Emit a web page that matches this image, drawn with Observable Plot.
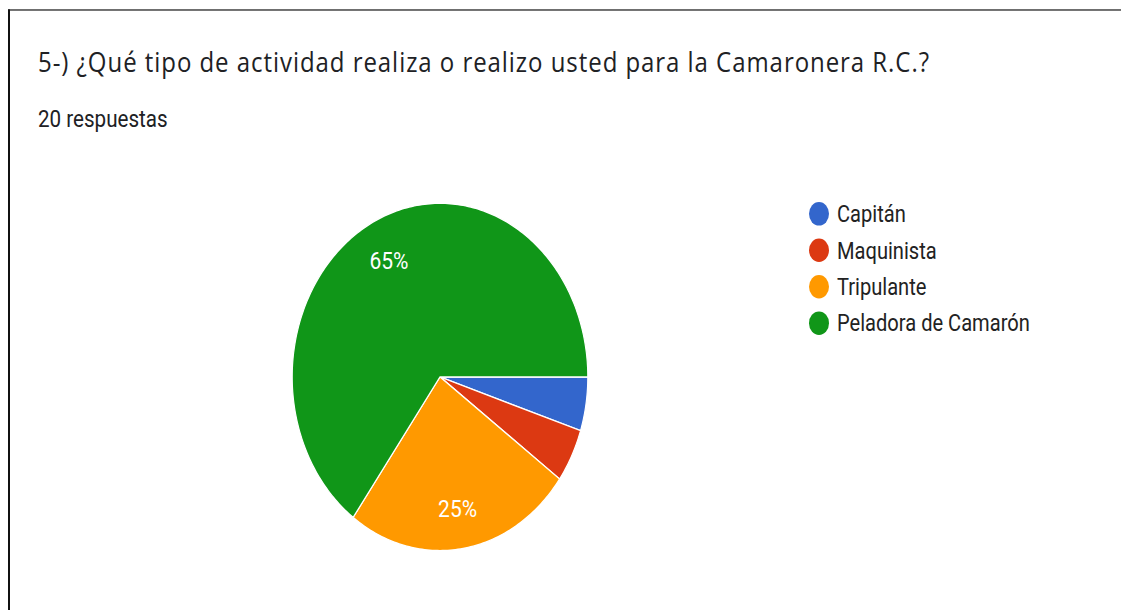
<!DOCTYPE html>
<html>
<head>
<meta charset="utf-8">
<script src="https://cdn.jsdelivr.net/npm/d3@7"></script>
<script src="https://cdn.jsdelivr.net/npm/@observablehq/plot@0.6"></script>
<style>
  html { overflow: hidden; }
  html, body { margin: 0; padding: 0; background: #fff; }
  body { height: 610px; }
  #stage {
    position: relative; width: 1121px; height: 519px;
    transform: scaleY(1.175); transform-origin: 0 0;
    font-family: Roboto, "Noto Sans", sans-serif;
  }
  #frame {
    position: absolute; left: 7.5px; top: 7.7px; right: 0; bottom: -2px;
    border-top: 1.7px solid #111; border-left: 2px solid #111;
  }
  #title {
    position: absolute; left: 38px; font-size: 24px; line-height: 1;
    font-family: "Open Sans", Roboto, sans-serif;
    color: #202124; white-space: nowrap;
  }
  #subtitle {
    position: absolute; left: 38px; font-size: 20.6px; line-height: 1;
    color: #202124; white-space: nowrap;
  }
  #chart { position: absolute; left: 0; top: 140px; }
  #legend { position: absolute; left: 809px; top: 0; }
  .item {
    position: absolute; left: 0; display: flex; align-items: center; height: 20px;
    font-size: 20.1px; color: #222; white-space: nowrap;
  }
  .sw { width: 20px; height: 20px; border-radius: 50%; margin-right: 8px; flex: none; }
</style>
</head>
<body>
<div id="stage">
  <div id="frame"></div>
  <div id="chart"></div>
  <div id="title"></div>
  <div id="subtitle"></div>
  <div id="legend"></div>
</div>
<script>
// ---- data ----
const titleText = "5-) ¿Qué tipo de actividad realiza o realizo usted para la Camaronera R.C.?";
const subtitleText = "20 respuestas";
const categories = ["Capitán", "Maquinista", "Tripulante", "Peladora de Camarón"];
const counts = [1, 1, 5, 13];
const colors = ["#3366cc", "#dc3912", "#ff9900", "#109618"];

const S = 1.175; // vertical stretch of the reference

// title: baseline at 72.5px (screen), fit to 892px width
const titleEl = document.getElementById("title");
titleEl.textContent = titleText;
{
  const F = 24;
  titleEl.style.top = (72.5 / S - 0.888 * F) + "px";
  const w = titleEl.getBoundingClientRect().width;
  const ls = (892 - w) / titleText.length;
  titleEl.style.letterSpacing = ls + "px";
}
const subEl = document.getElementById("subtitle");
subEl.textContent = subtitleText;
subEl.style.top = (127.7 / S - 0.842 * 20.6) + "px";

const total = d3.sum(counts);
// wedge polygons in unit-circle space, clockwise from 3 o'clock
const wedges = [];
const labels = [];
let acc = 0;
categories.forEach((cat, i) => {
  const a0 = (acc / total) * 2 * Math.PI;
  acc += counts[i];
  const a1 = (acc / total) * 2 * Math.PI;
  const n = Math.max(2, Math.ceil((a1 - a0) / (Math.PI / 180)) + 1);
  wedges.push({cat, x: 0, y: 0});
  for (let k = 0; k < n; k++) {
    const a = a0 + (a1 - a0) * k / (n - 1);
    wedges.push({cat, x: Math.cos(a), y: Math.sin(a)});
  }
  const share = counts[i] / total;
  if (share >= 0.1) {
    const m = (a0 + a1) / 2;
    labels.push({cat, x: 0.76 * Math.cos(m), y: 0.76 * Math.sin(m), text: Math.round(share * 100) + "%"});
  }
});

const W = 1121, H = 379;
const plot = Plot.plot({
  width: W,
  height: H,
  marginLeft: 291.7,
  marginRight: W - 587.3,
  marginTop: 32.5,
  marginBottom: H - 328.1,
  style: {background: "transparent", overflow: "visible"},
  x: {domain: [-1, 1], axis: null},
  y: {domain: [-1, 1], axis: null, reverse: true},
  color: {domain: categories, range: colors},
  marks: [
    Plot.line(wedges, {
      x: "x", y: "y", z: "cat", fill: "cat", stroke: "white",
      strokeWidth: 1.2, strokeOpacity: 1, curve: "linear-closed", strokeLinejoin: "round"
    }),
    Plot.text(labels, {
      x: "x", y: "y", text: "text", fill: "white", fontSize: 21, dy: 1.8,
      fontFamily: "Roboto", textAnchor: "middle", lineAnchor: "middle"
    })
  ]
});
document.getElementById("chart").appendChild(plot);

// legend
const legend = document.getElementById("legend");
const firstCenter = 182.1, step = 30.93;
categories.forEach((cat, i) => {
  const row = document.createElement("div");
  row.className = "item";
  row.style.top = (firstCenter + i * step - 10) + "px";
  const sw = document.createElement("span");
  sw.className = "sw";
  sw.style.background = colors[i];
  const tx = document.createElement("span");
  tx.textContent = cat;
  row.appendChild(sw);
  row.appendChild(tx);
  legend.appendChild(row);
});
</script>
</body>
</html>
